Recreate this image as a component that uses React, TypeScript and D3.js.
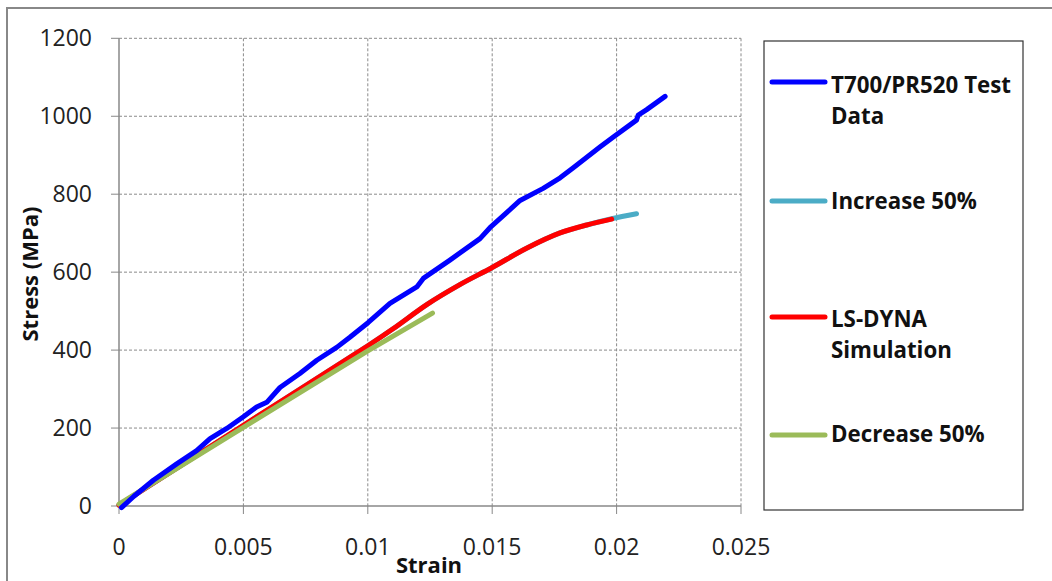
import React from "react";
import * as d3 from "d3";

const xTicks = [0, 0.005, 0.01, 0.015, 0.02, 0.025];
const xTickLabels = ["0", "0.005", "0.01", "0.015", "0.02", "0.025"];
const yTicks = [0, 200, 400, 600, 800, 1000, 1200];

const testStrain = [0.0001, 0.0006, 0.00138, 0.00232, 0.00312, 0.00366, 0.00433, 0.005, 0.00553, 0.00594, 0.00647, 0.00727, 0.00795, 0.00875, 0.00928, 0.01002, 0.01089, 0.01197, 0.01223, 0.0133, 0.01451, 0.01491, 0.01612, 0.01705, 0.01773, 0.01826, 0.01933, 0.01987, 0.0208, 0.02087, 0.02121, 0.02195];
const testStress = [-4, 25, 66, 108, 142, 173, 199, 229, 254, 266, 304, 340, 374, 407, 433, 471, 520, 562, 584, 631, 686, 714, 784, 815, 842, 868, 921, 947, 990, 1003, 1017, 1051];

const simStrain = [0, 0.005, 0.01, 0.011, 0.0124, 0.0137, 0.015, 0.0164, 0.0177, 0.0188, 0.0198];
const simStress = [2, 207, 411, 454, 518, 568, 612, 662, 700, 721, 736];

const incStrain = [0, 0.005, 0.01, 0.011, 0.0124, 0.0137, 0.015, 0.0164, 0.0177, 0.0188, 0.0198, 0.0208];
const incStress = [2, 207, 411, 454, 518, 568, 612, 662, 700, 721, 737, 750];

const decStrain = [0, 0.005, 0.01, 0.0126];
const decStress = [5, 202, 398, 495];

const legendLabels = [
  ["T700/PR520 Test", "Data"],
  ["Increase 50%"],
  ["LS-DYNA", "Simulation"],
  ["Decrease 50%"],
];
const colors = ["#0000FF", "#4BACC6", "#FF0000", "#9BBB59"];

const FONT = "'Open Sans', sans-serif";

export default function App() {
  const x = d3.scaleLinear().domain([0, 0.025]).range([119, 741]);
  const y = d3.scaleLinear().domain([0, 1200]).range([506, 38.3]);
  const mk = (xs: number[], ys: number[]) => xs.map((v, i) => [v, ys[i]] as [number, number]);
  const lineLin = d3.line<[number, number]>().x(d => x(d[0])).y(d => y(d[1]));
  const lineSmooth = d3.line<[number, number]>().x(d => x(d[0])).y(d => y(d[1])).curve(d3.curveCatmullRom.alpha(0.5));

  const series = [
    { d: lineSmooth(mk(incStrain, incStress)), c: colors[1] },
    { d: lineSmooth(mk(simStrain, simStress)), c: colors[2] },
    { d: lineLin(mk(decStrain, decStress)), c: colors[3] },
    { d: lineLin(mk(testStrain, testStress)), c: colors[0] },
  ];

  const legendY = [82, 201, 317, 435];
  const legendTextY = [[93, 124], [209], [327, 358], [442]];

  return (
    <svg width={1052} height={581} style={{ position: "absolute", left: 0, top: 0, background: "#fff" }}>
      <rect x={7} y={8} width={1200} height={800} fill="#fff" stroke="#888" strokeWidth={2} />
      {/* grid */}
      {yTicks.filter(t => t !== 0).map(t => (
        <line key={"gy" + t} x1={x(0)} x2={x(0.025)} y1={y(t)} y2={y(t)} stroke="#8a8a8a" strokeWidth={1} strokeDasharray="3,2" />
      ))}
      {xTicks.filter(t => t !== 0).map(t => (
        <line key={"gx" + t} x1={x(t)} x2={x(t)} y1={y(1200)} y2={y(0)} stroke="#8a8a8a" strokeWidth={1} strokeDasharray="3,2" />
      ))}
      {/* axes */}
      <line x1={x(0)} x2={x(0)} y1={y(1200)} y2={y(0)} stroke="#888" strokeWidth={1.5} />
      <line x1={x(0)} x2={x(0.025)} y1={y(0)} y2={y(0)} stroke="#888" strokeWidth={1.5} />
      {yTicks.map(t => (
        <line key={"ty" + t} x1={x(0) - 8} x2={x(0)} y1={y(t)} y2={y(t)} stroke="#888" strokeWidth={1} />
      ))}
      {xTicks.map(t => (
        <line key={"tx" + t} x1={x(t)} x2={x(t)} y1={y(0)} y2={y(0) + 8} stroke="#888" strokeWidth={1} />
      ))}
      {yTicks.map(t => (
        <text key={"ly" + t} x={92} y={y(t)} dy="0.35em" textAnchor="end" fontFamily={FONT} fontSize={23} fill="#222">{t}</text>
      ))}
      {xTicks.map((t, i) => (
        <text key={"lx" + t} x={x(t)} y={555} textAnchor="middle" fontFamily={FONT} fontSize={23} fill="#222">{xTickLabels[i]}</text>
      ))}
      <text x={429} y={573} textAnchor="middle" fontFamily={FONT} fontWeight="bold" fontSize={22} fill="#111">Strain</text>
      <text transform={`translate(38,274) rotate(-90)`} textAnchor="middle" fontFamily={FONT} fontWeight="bold" fontSize={22} fill="#111">Stress (MPa)</text>
      {/* series */}
      <g fill="none" strokeWidth={5} strokeLinecap="round" strokeLinejoin="round">
        {series.map((s, i) => <path key={i} d={s.d || ""} stroke={s.c} />)}
      </g>
      {/* legend */}
      <rect x={764} y={41} width={259} height={469} fill="#fff" stroke="#333" strokeWidth={1.2} />
      {legendLabels.map((lab, i) => (
        <g key={"lg" + i}>
          <line x1={772} x2={825} y1={legendY[i]} y2={legendY[i]} stroke={colors[i]} strokeWidth={5} strokeLinecap="round" />
          {lab.map((t, j) => (
            <text key={j} x={831} y={legendTextY[i][j]} fontFamily={FONT} fontWeight="bold" fontSize={22.3} fill="#111">{t}</text>
          ))}
        </g>
      ))}
    </svg>
  );
}
